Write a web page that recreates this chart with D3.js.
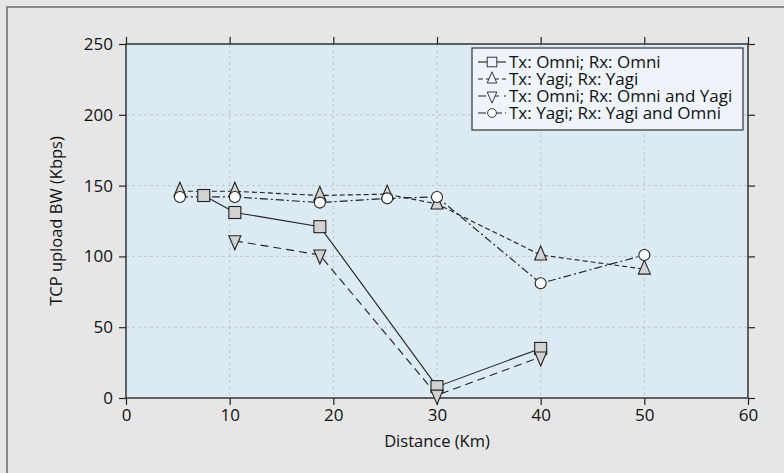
<!DOCTYPE html>
<html><head><meta charset="utf-8">
<script src="https://cdn.jsdelivr.net/npm/d3@7"></script>
<style>
html,body{margin:0;padding:0;background:#e6e6e7;}
svg{display:block;font-family:"Open Sans","Noto Sans",sans-serif;}
</style></head>
<body><svg id="c" width="784" height="473"></svg>
<script>
const xTicks = [0,10,20,30,40,50,60];
const yTicks = [0,50,100,150,200,250];
const seriesNames = ["Tx: Omni; Rx: Omni","Tx: Yagi; Rx: Yagi","Tx: Omni; Rx: Omni and Yagi","Tx: Yagi; Rx: Yagi and Omni"];
const omniOmniX = [7.5,10.5,18.7,30,40];
const omniOmniY = [143,131,121,8,35];
const yagiYagiX = [5.2,10.5,18.7,25.2,30,40,50];
const yagiYagiY = [146,146,143,144,137,101,91];
const omniBothX = [10.5,18.7,30,40];
const omniBothY = [111,101,2,29];
const yagiBothX = [5.2,10.5,18.7,25.2,30,40,50];
const yagiBothY = [142,142,138,141,142,81,101];

const svg = d3.select("#c");
const W=784,H=473;
const FONT="'Open Sans','Noto Sans',sans-serif";
svg.append("rect").attr("x",0).attr("y",0).attr("width",W).attr("height",H).attr("fill","#e6e6e7");
svg.append("path").attr("d","M7,473V7H784").attr("fill","none").attr("stroke","#8a8a8a").attr("stroke-width",2);

const L=126,R=748,T=44,B=398;
const x=d3.scaleLinear().domain([0,60]).range([L,R]);
const y=d3.scaleLinear().domain([0,250]).range([B,T]);

svg.append("rect").attr("x",L).attr("y",T).attr("width",R-L).attr("height",B-T).attr("fill","#dceaf3");
const g=svg.append("g");
g.selectAll(".gx").data(xTicks.slice(1,-1)).join("line").attr("x1",d=>x(d)).attr("x2",d=>x(d)).attr("y1",T).attr("y2",B)
 .attr("stroke","#c4c4c4").attr("stroke-dasharray","3,3").attr("stroke-width",1);
g.selectAll(".gy").data(yTicks.slice(1,-1)).join("line").attr("y1",d=>y(d)).attr("y2",d=>y(d)).attr("x1",L).attr("x2",R)
 .attr("stroke","#c4c4c4").attr("stroke-dasharray","3,3").attr("stroke-width",1);

const fs="17px";
function styleAxis(sel){
  sel.attr("font-family",FONT).attr("font-size",fs);
  sel.select(".domain").remove();
  sel.selectAll("line").attr("stroke","#222").attr("stroke-width",1.2);
  sel.selectAll("text").attr("fill","#111").style("font-size",fs).style("font-family",FONT);
}
svg.append("g").attr("transform",`translate(0,${B})`).call(d3.axisBottom(x).tickValues(xTicks).tickSize(7).tickPadding(4)).call(styleAxis);
svg.append("g").attr("transform",`translate(0,${T})`).call(d3.axisTop(x).tickValues(xTicks).tickSize(7).tickFormat("")).call(styleAxis);
svg.append("g").attr("transform",`translate(${L},0)`).call(d3.axisLeft(y).tickValues(yTicks).tickSize(7).tickPadding(6)).call(styleAxis);
svg.append("g").attr("transform",`translate(${R},0)`).call(d3.axisRight(y).tickValues(yTicks).tickSize(7).tickFormat("")).call(styleAxis);
svg.append("rect").attr("x",L).attr("y",T).attr("width",R-L).attr("height",B-T).attr("fill","none").attr("stroke","#333").attr("stroke-width",1.5);

svg.append("text").attr("x",(L+R)/2).attr("y",447).attr("text-anchor","middle").style("font-size","16.5px").style("font-family",FONT).attr("fill","#111").text("Distance (Km)");
svg.append("text").attr("transform",`translate(62,${(T+B)/2}) rotate(-90)`).attr("text-anchor","middle").style("font-size","16.5px").style("font-family",FONT).attr("fill","#111").text("TCP upload BW (Kbps)");

const series=[
 {xs:omniOmniX,ys:omniOmniY,dash:null,sym:"square",fill:"#d2d2d2"},
 {xs:yagiYagiX,ys:yagiYagiY,dash:"5,3",sym:"up",fill:"#d2d2d2"},
 {xs:omniBothX,ys:omniBothY,dash:"8,5",sym:"down",fill:"#d2d2d2"},
 {xs:yagiBothX,ys:yagiBothY,dash:"8,3,2,3",sym:"circle",fill:"#ffffff"}
];
function marker(gr,sym,cx,cy,fill){
  const st="#222";
  if(sym==="square") gr.append("rect").attr("x",cx-6).attr("y",cy-6).attr("width",12).attr("height",12).attr("fill",fill).attr("stroke",st).attr("stroke-width",1.1);
  else if(sym==="up") gr.append("path").attr("d",`M${cx},${cy-9}L${cx+6},${cy+5}L${cx-6},${cy+5}Z`).attr("fill",fill).attr("stroke",st).attr("stroke-width",1.1);
  else if(sym==="down") gr.append("path").attr("d",`M${cx},${cy+9}L${cx+6},${cy-5}L${cx-6},${cy-5}Z`).attr("fill",fill).attr("stroke",st).attr("stroke-width",1.1);
  else gr.append("circle").attr("cx",cx).attr("cy",cy).attr("r",5.5).attr("fill",fill).attr("stroke",st).attr("stroke-width",1.1);
}
const line=d3.line().x(d=>x(d[0])).y(d=>y(d[1]));
series.forEach(s=>{
  const pts=s.xs.map((v,i)=>[v,s.ys[i]]);
  svg.append("path").attr("d",line(pts)).attr("fill","none").attr("stroke","#222").attr("stroke-width",1.15).attr("stroke-dasharray",s.dash);
});
series.forEach(s=>{
  const gr=svg.append("g");
  s.xs.forEach((v,i)=>marker(gr,s.sym,x(v),y(s.ys[i]),s.fill));
});

const lg=svg.append("g");
lg.append("rect").attr("x",472).attr("y",48).attr("width",271).attr("height",82).attr("fill","#eef4f9").attr("stroke","#333").attr("stroke-width",1.2);
seriesNames.forEach((n,i)=>{
  const yy=62+i*17;
  lg.append("line").attr("x1",478).attr("x2",506).attr("y1",yy).attr("y2",yy).attr("stroke","#222").attr("stroke-width",1.1).attr("stroke-dasharray",series[i].dash);
  const gm=lg.append("g").attr("transform",`translate(${492},${yy}) scale(0.8) translate(${-492},${-yy})`);
  marker(gm,series[i].sym,492,yy,series[i].sym==="circle"?"#fff":"#eef4f9");
  lg.append("text").attr("x",509).attr("y",yy+5.5).style("font-size","17px").style("font-family",FONT).attr("fill","#111").text(n);
});
</script></body></html>
